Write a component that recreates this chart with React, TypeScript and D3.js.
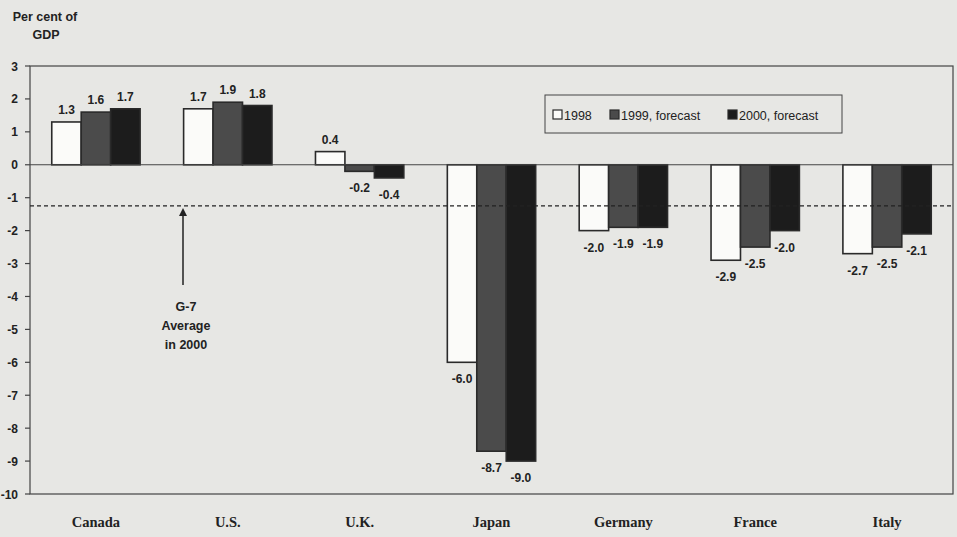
import React from "react";
import * as d3 from "d3";

const categories = ["Canada", "U.S.", "U.K.", "Japan", "Germany", "France", "Italy"];
const seriesNames = ["1998", "1999, forecast", "2000, forecast"];
const values1998 = [1.3, 1.7, 0.4, -6.0, -2.0, -2.9, -2.7];
const values1999 = [1.6, 1.9, -0.2, -8.7, -1.9, -2.5, -2.5];
const values2000 = [1.7, 1.8, -0.4, -9.0, -1.9, -2.0, -2.1];
const yTicks = [3, 2, 1, 0, -1, -2, -3, -4, -5, -6, -7, -8, -9, -10];
const g7Average = -1.25;
const seriesColors = ["#fbfbf9", "#4b4b4b", "#1c1c1c"];

const W = 957;
const H = 537;
const left = 30;
const right = 953;
const top = 66;
const bottom = 494;

export default function App() {
  const x = d3.scaleBand<string>().domain(categories).range([left, right]).paddingInner(0.33).paddingOuter(0.165);
  const xs = d3.scaleBand<string>().domain(seriesNames).range([0, x.bandwidth()]);
  const y = d3.scaleLinear().domain([-10, 3]).range([bottom, top]);
  const series = [values1998, values1999, values2000];
  const num = (v: number) => v.toFixed(1);
  const legendX = [553, 610, 728];

  return (
    <svg
      width={W}
      height={H}
      style={{ position: "absolute", left: 0, top: 0, background: "#e7e7e4" }}
      fontFamily="'Liberation Sans', Arial, sans-serif"
    >
      <rect x={0} y={0} width={W} height={H} fill="#e7e7e4" />
      {/* axis title */}
      <text x={45} y={21} fontSize={12.5} fontWeight="bold" textAnchor="middle" fill="#222">Per cent of</text>
      <text x={46} y={39} fontSize={12.5} fontWeight="bold" textAnchor="middle" fill="#222">GDP</text>

      {/* plot frame */}
      <rect x={left} y={top} width={right - left} height={bottom - top} fill="none" stroke="#444" strokeWidth={1.2} />

      {/* y ticks */}
      {yTicks.map((t) => (
        <g key={t}>
          <line x1={left - 5} x2={left} y1={y(t)} y2={y(t)} stroke="#444" strokeWidth={1.2} />
          <text x={left - 12} y={y(t) + 4.5} fontSize={12} fontWeight="bold" textAnchor="end" fill="#222">
            {t}
          </text>
        </g>
      ))}

      {/* bars */}
      {categories.map((c, i) => (
        <g key={c}>
          {series.map((vals, s) => {
            const v = vals[i];
            const bx = (x(c) as number) + (xs(seriesNames[s]) as number);
            const bw = xs.bandwidth();
            const y0 = y(Math.max(0, v));
            const h = Math.abs(y(v) - y(0));
            return (
              <g key={s}>
                <rect x={bx} y={y0} width={bw} height={h} fill={seriesColors[s]} stroke="#2a2a2a" strokeWidth={1.6} />
                <text
                  x={bx + bw / 2}
                  y={v >= 0 ? y(v) - 8 : y(v) + 21}
                  fontSize={12}
                  fontWeight="bold"
                  textAnchor="middle"
                  fill="#222"
                >
                  {num(v)}
                </text>
              </g>
            );
          })}
          <text
            x={(x(c) as number) + x.bandwidth() / 2}
            y={527}
            fontSize={14.5}
            fontWeight="bold"
            textAnchor="middle"
            fill="#222"
            fontFamily="'Liberation Serif', 'Times New Roman', serif"
          >
            {c}
          </text>
        </g>
      ))}

      {/* zero line */}
      <line x1={left} x2={right} y1={y(0)} y2={y(0)} stroke="#444" strokeWidth={1.2} />

      {/* G-7 average dashed line */}
      <line x1={left} x2={right} y1={y(g7Average)} y2={y(g7Average)} stroke="#222" strokeWidth={1.3} strokeDasharray="4,3" />

      {/* arrow and annotation */}
      <line x1={183} x2={183} y1={285} y2={y(g7Average) + 6} stroke="#222" strokeWidth={1.5} />
      <path d={`M179,${y(g7Average) + 10} L183,${y(g7Average) + 2} L187,${y(g7Average) + 10} Z`} fill="#222" />
      <text x={186} y={311} fontSize={12.5} fontWeight="bold" textAnchor="middle" fill="#222">G-7</text>
      <text x={186} y={330} fontSize={12.5} fontWeight="bold" textAnchor="middle" fill="#222">Average</text>
      <text x={186} y={349} fontSize={12.5} fontWeight="bold" textAnchor="middle" fill="#222">in 2000</text>

      {/* legend */}
      <rect x={545} y={95} width={297} height={38} fill="#e7e7e4" stroke="#444" strokeWidth={1} />
      {seriesNames.map((n, s) => {
        const lx = legendX[s];
        return (
          <g key={n}>
            <rect x={lx} y={110} width={9} height={9} fill={seriesColors[s]} stroke="#2a2a2a" strokeWidth={1.2} />
            <text x={lx + 11} y={119.5} fontSize={12.5} fill="#222">{n}</text>
          </g>
        );
      })}
    </svg>
  );
}
